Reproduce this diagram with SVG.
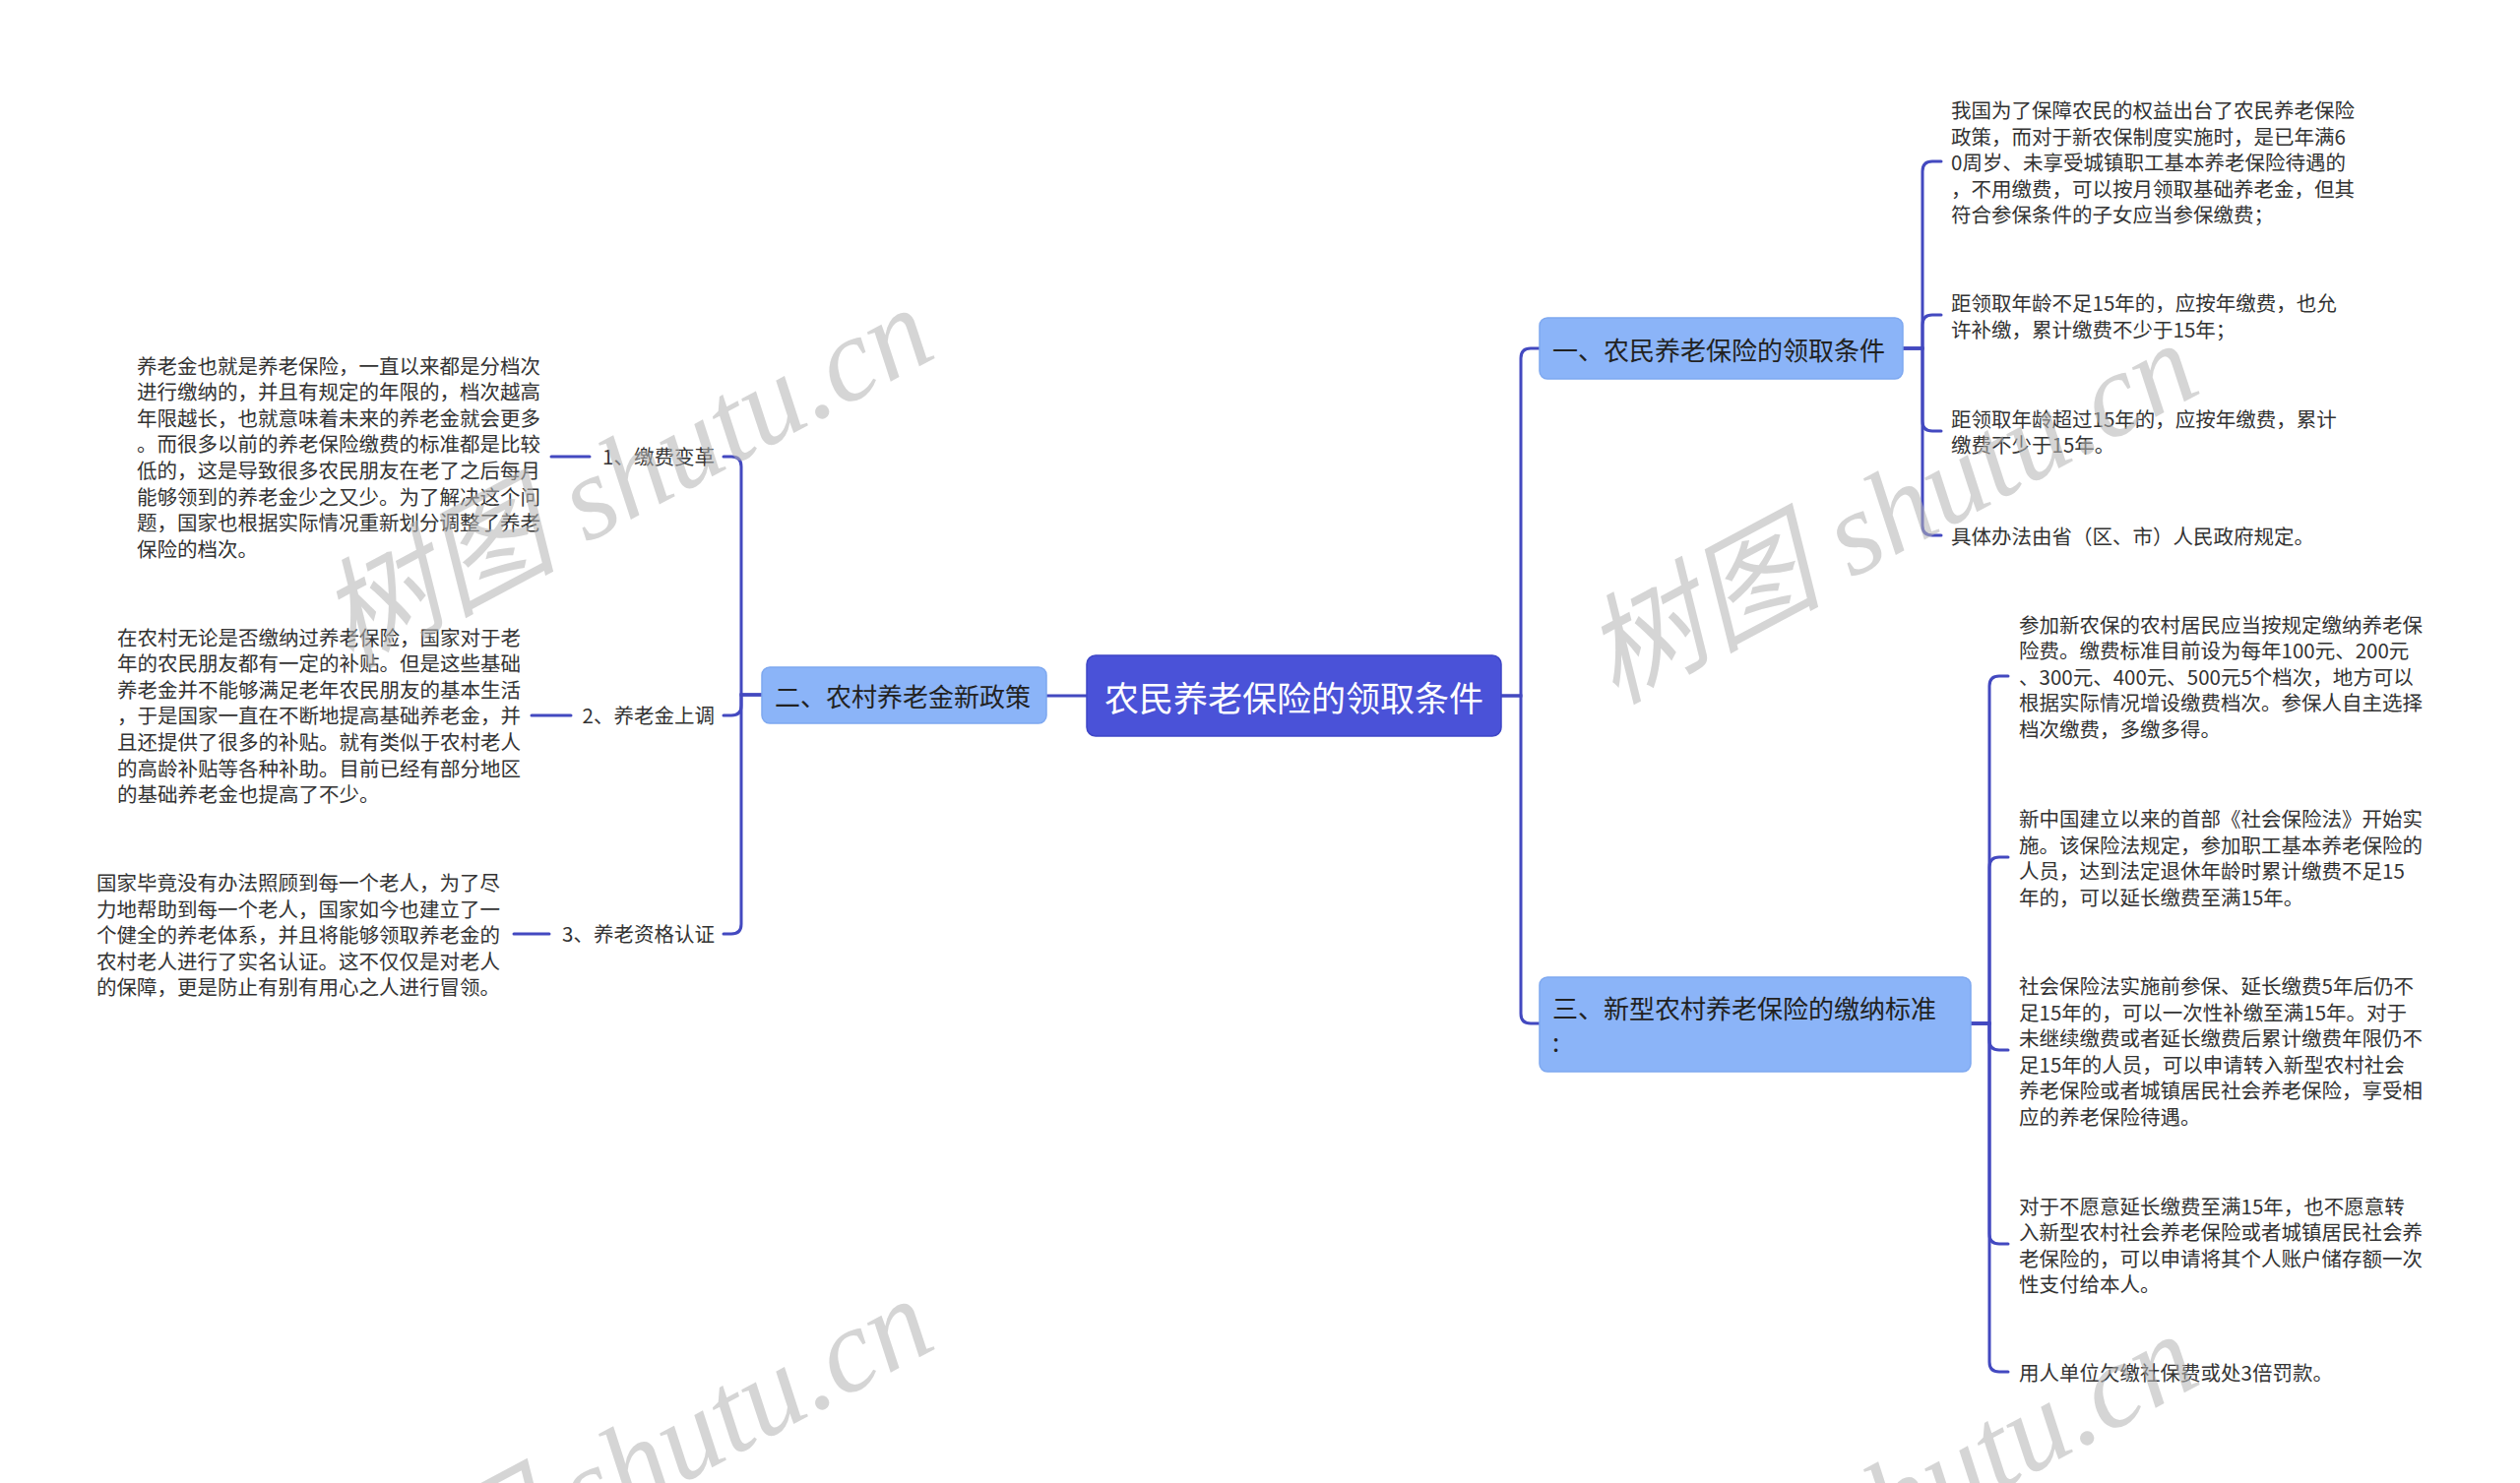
<svg xmlns="http://www.w3.org/2000/svg" width="2560" height="1507" viewBox="0 0 2560 1507">
<style>
.bg{fill:#ffffff}
.conn{fill:none;stroke:#4349C0;stroke-width:3;stroke-linecap:round}
.root-box{fill:#4A52D8;stroke:#3E46C6;stroke-width:1.5}
.main-box{fill:#8BB4F8;stroke:#7EA8F0;stroke-width:1.5}
.root-t{font-family:"Noto Sans CJK SC","Noto Sans",sans-serif;font-size:35px;fill:#ffffff;dominant-baseline:central}
.main-t{font-family:"Noto Sans CJK SC","Noto Sans",sans-serif;font-size:26px;fill:#222222;dominant-baseline:central}
.leaf-t{font-family:"Noto Sans CJK SC","Noto Sans",sans-serif;font-size:20.5px;fill:#333333;dominant-baseline:central}
.wm{font-family:"Liberation Serif","Noto Sans CJK SC",serif;font-style:italic;font-size:121px;fill:#b4b4b4;opacity:0.55}
</style>
<rect class="bg" x="0" y="0" width="2560" height="1507"/>

<g id="connectors">
  <path class="conn" d="M1104,707 H1063"/>
  <path class="conn" d="M1525,707 H1545 V364 Q1545,354 1555,354 H1564"/>
  <path class="conn" d="M1525,707 H1545 V1030 Q1545,1040 1555,1040 H1564"/>
  <path class="conn" d="M774,706 H753 V474 Q753,464 743,464 H735"/>
  <path class="conn" d="M774,706 H753 V717 Q753,727 743,727 H735"/>
  <path class="conn" d="M774,706 H753 V939 Q753,949 743,949 H735"/>
  <path class="conn" d="M599,464 H560"/>
  <path class="conn" d="M580,727 H540"/>
  <path class="conn" d="M558,949 H522"/>
  <path class="conn" d="M1933,354 H1953 V174 Q1953,164 1963,164 H1972"/>
  <path class="conn" d="M1933,354 H1953 V330 Q1953,320 1963,320 H1972"/>
  <path class="conn" d="M1933,354 H1953 V428 Q1953,438 1963,438 H1972"/>
  <path class="conn" d="M1933,354 H1953 V534 Q1953,544 1963,544 H1972"/>
  <path class="conn" d="M2002,1040 H2021 V697 Q2021,687 2031,687 H2040"/>
  <path class="conn" d="M2002,1040 H2021 V881 Q2021,871 2031,871 H2040"/>
  <path class="conn" d="M2002,1040 H2021 V1057 Q2021,1067 2031,1067 H2040"/>
  <path class="conn" d="M2002,1040 H2021 V1254 Q2021,1264 2031,1264 H2040"/>
  <path class="conn" d="M2002,1040 H2021 V1384 Q2021,1394 2031,1394 H2040"/>
</g>

<g id="root">
  <rect class="root-box" x="1104" y="666" width="421" height="82" rx="9"/>
  <text class="root-t" x="1314.5" y="707" text-anchor="middle">农民养老保险的领取条件</text>
</g>

<g id="branch-2">
  <rect class="main-box" x="774" y="678" width="289" height="57" rx="8"/>
  <text class="main-t" x="787" y="706">二、农村养老金新政策</text>
</g>

<g id="branch-1">
  <rect class="main-box" x="1564" y="323" width="369" height="62" rx="8"/>
  <text class="main-t" x="1577" y="354">一、农民养老保险的领取条件</text>
</g>

<g id="branch-3">
  <rect class="main-box" x="1564" y="993" width="438" height="96" rx="8"/>
  <text class="main-t" x="1577" y="1023">三、新型农村养老保险的缴纳标准<tspan x="1577" dy="34">:</tspan></text>
</g>

<g id="label-1">
  <text class="leaf-t" x="726" y="463" text-anchor="end">1、缴费变革</text>
</g>
<g id="label-2">
  <text class="leaf-t" x="726" y="726" text-anchor="end">2、养老金上调</text>
</g>
<g id="label-3">
  <text class="leaf-t" x="726" y="948" text-anchor="end">3、养老资格认证</text>
</g>

<g id="leaf-l1">
  <text class="leaf-t" x="139" y="370.6">养老金也就是养老保险，一直以来都是分档次<tspan x="139" dy="26.6">进行缴纳的，并且有规定的年限的，档次越高</tspan><tspan x="139" dy="26.6">年限越长，也就意味着未来的养老金就会更多</tspan><tspan x="139" dy="26.6">。而很多以前的养老保险缴费的标准都是比较</tspan><tspan x="139" dy="26.6">低的，这是导致很多农民朋友在老了之后每月</tspan><tspan x="139" dy="26.6">能够领到的养老金少之又少。为了解决这个问</tspan><tspan x="139" dy="26.6">题，国家也根据实际情况重新划分调整了养老</tspan><tspan x="139" dy="26.6">保险的档次。</tspan></text>
</g>

<g id="leaf-l2">
  <text class="leaf-t" x="119" y="646.6">在农村无论是否缴纳过养老保险，国家对于老<tspan x="119" dy="26.6">年的农民朋友都有一定的补贴。但是这些基础</tspan><tspan x="119" dy="26.6">养老金并不能够满足老年农民朋友的基本生活</tspan><tspan x="119" dy="26.6">，于是国家一直在不断地提高基础养老金，并</tspan><tspan x="119" dy="26.6">且还提供了很多的补贴。就有类似于农村老人</tspan><tspan x="119" dy="26.6">的高龄补贴等各种补助。目前已经有部分地区</tspan><tspan x="119" dy="26.6">的基础养老金也提高了不少。</tspan></text>
</g>

<g id="leaf-l3">
  <text class="leaf-t" x="98" y="896">国家毕竟没有办法照顾到每一个老人，为了尽<tspan x="98" dy="26.6">力地帮助到每一个老人，国家如今也建立了一</tspan><tspan x="98" dy="26.6">个健全的养老体系，并且将能够领取养老金的</tspan><tspan x="98" dy="26.6">农村老人进行了实名认证。这不仅仅是对老人</tspan><tspan x="98" dy="26.6">的保障，更是防止有别有用心之人进行冒领。</tspan></text>
</g>

<g id="leaf-r1">
  <text class="leaf-t" x="1982" y="111">我国为了保障农民的权益出台了农民养老保险<tspan x="1982" dy="26.6">政策，而对于新农保制度实施时，是已年满6</tspan><tspan x="1982" dy="26.6">0周岁、未享受城镇职工基本养老保险待遇的</tspan><tspan x="1982" dy="26.6">，不用缴费，可以按月领取基础养老金，但其</tspan><tspan x="1982" dy="26.6">符合参保条件的子女应当参保缴费；</tspan></text>
</g>

<g id="leaf-r2">
  <text class="leaf-t" x="1982" y="307">距领取年龄不足15年的，应按年缴费，也允<tspan x="1982" dy="26.6">许补缴，累计缴费不少于15年；</tspan></text>
</g>

<g id="leaf-r3">
  <text class="leaf-t" x="1982" y="424.5">距领取年龄超过15年的，应按年缴费，累计<tspan x="1982" dy="26.6">缴费不少于15年。</tspan></text>
</g>

<g id="leaf-r4">
  <text class="leaf-t" x="1982" y="544">具体办法由省（区、市）人民政府规定。</text>
</g>

<g id="leaf-s1">
  <text class="leaf-t" x="2051" y="633.5">参加新农保的农村居民应当按规定缴纳养老保<tspan x="2051" dy="26.6">险费。缴费标准目前设为每年100元、200元</tspan><tspan x="2051" dy="26.6">、300元、400元、500元5个档次，地方可以</tspan><tspan x="2051" dy="26.6">根据实际情况增设缴费档次。参保人自主选择</tspan><tspan x="2051" dy="26.6">档次缴费，多缴多得。</tspan></text>
</g>

<g id="leaf-s2">
  <text class="leaf-t" x="2051" y="831">新中国建立以来的首部《社会保险法》开始实<tspan x="2051" dy="26.6">施。该保险法规定，参加职工基本养老保险的</tspan><tspan x="2051" dy="26.6">人员，达到法定退休年龄时累计缴费不足15</tspan><tspan x="2051" dy="26.6">年的，可以延长缴费至满15年。</tspan></text>
</g>

<g id="leaf-s3">
  <text class="leaf-t" x="2051" y="1001">社会保险法实施前参保、延长缴费5年后仍不<tspan x="2051" dy="26.6">足15年的，可以一次性补缴至满15年。对于</tspan><tspan x="2051" dy="26.6">未继续缴费或者延长缴费后累计缴费年限仍不</tspan><tspan x="2051" dy="26.6">足15年的人员，可以申请转入新型农村社会</tspan><tspan x="2051" dy="26.6">养老保险或者城镇居民社会养老保险，享受相</tspan><tspan x="2051" dy="26.6">应的养老保险待遇。</tspan></text>
</g>

<g id="leaf-s4">
  <text class="leaf-t" x="2051" y="1224.5">对于不愿意延长缴费至满15年，也不愿意转<tspan x="2051" dy="26.6">入新型农村社会养老保险或者城镇居民社会养</tspan><tspan x="2051" dy="26.6">老保险的，可以申请将其个人账户储存额一次</tspan><tspan x="2051" dy="26.6">性支付给本人。</tspan></text>
</g>

<g id="leaf-s5">
  <text class="leaf-t" x="2051" y="1394">用人单位欠缴社保费或处3倍罚款。</text>
</g>

<g id="watermarks">
  <text class="wm" transform="translate(355,680) rotate(-28)">树图 shutu.cn</text>
  <text class="wm" transform="translate(1640,716) rotate(-28)">树图 shutu.cn</text>
  <text class="wm" transform="translate(355,1687) rotate(-28)">树图 shutu.cn</text>
  <text class="wm" transform="translate(1640,1723) rotate(-28)">树图 shutu.cn</text>
</g>
</svg>
